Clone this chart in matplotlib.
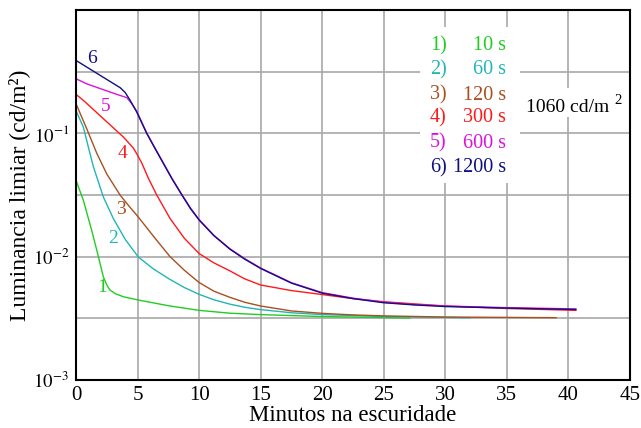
import matplotlib
matplotlib.use("Agg")
import matplotlib.pyplot as plt
from matplotlib.patches import Rectangle

plt.rcParams["font.family"] = ["Liberation Serif", "DejaVu Serif"]
plt.rcParams["mathtext.fontset"] = "stix"

# minutes in the dark / threshold luminance (cd/m2)
t1 = [0, 0.6, 1.27, 1.82, 2.22, 2.5, 2.76, 3.2, 3.85, 5.07, 7.64, 10, 12.5, 15, 20, 27.1]
y1 = [0.0417, 0.0286, 0.0164, 0.0100, 0.00687, 0.00589, 0.00536, 0.00501,
      0.00473, 0.00445, 0.00398, 0.00367, 0.00348, 0.00339, 0.00327, 0.00318]

t2 = [0, 0.6, 1.0, 1.41, 2.22, 3.03, 4.0, 5.07, 6.3, 7.64, 8.8, 10, 11.2, 12.5,
      13.7, 15, 17.5, 20, 25, 32]
y2 = [0.153, 0.112, 0.0776, 0.0537, 0.0305, 0.0204, 0.0138, 0.00991, 0.00794,
      0.00653, 0.00562, 0.00495, 0.00447, 0.00412, 0.00389, 0.00372, 0.00351,
      0.00339, 0.00327, 0.00320]

t3 = [0, 0.87, 1.68, 2.5, 3.58, 4.25, 5.07, 6.3, 7.64, 8.8, 10, 11.2, 12.5, 13.7,
      15, 17.5, 20, 22.5, 25, 30, 39]
y3 = [0.174, 0.109, 0.0692, 0.0468, 0.0316, 0.0261, 0.0209, 0.0146, 0.0100,
      0.00776, 0.00617, 0.00525, 0.00468, 0.00427, 0.00398, 0.00363, 0.00347,
      0.00337, 0.00331, 0.00324, 0.00320]

t4 = [0, 0.6, 2.22, 3.85, 4.66, 4.93, 5.34, 5.88, 6.56, 7.64, 8.8, 10, 11.2, 12.5,
      13.7, 15, 17.5, 20, 22.5, 25, 30, 35, 40.6]
y4 = [0.207, 0.185, 0.1315, 0.0933, 0.0759, 0.0684, 0.0575, 0.0432, 0.0316,
      0.0204, 0.0141, 0.0106, 0.00891, 0.00767, 0.00661, 0.00589, 0.00531,
      0.00493, 0.00457, 0.00431, 0.00398, 0.00380, 0.00367]

t5 = [0, 0.87, 2.22, 3.31, 4.12, 4.53, 4.93, 5.74, 6.4, 7.1, 7.8, 8.6, 9.3, 10,
      11.2, 12.5, 13.7, 15, 17.5, 20, 22.5, 25, 27.5, 30, 35, 40.6]
y5 = [0.277, 0.252, 0.226, 0.207, 0.195, 0.174, 0.151, 0.101, 0.0766, 0.0574,
      0.0431, 0.0319, 0.0248, 0.0200, 0.0149, 0.0116, 0.00964, 0.00809, 0.00615,
      0.00511, 0.00461, 0.00427, 0.00409, 0.00398, 0.00386, 0.00377]

t6 = [0, 1.8, 3.6, 4.0, 4.4, 4.93, 5.74, 6.4, 7.1, 7.8, 8.6, 9.3, 10, 11.2, 12.5,
      13.7, 15, 17.5, 20, 22.5, 25, 27.5, 30, 35, 40.6]
y6 = [0.390, 0.302, 0.234, 0.214, 0.185, 0.149, 0.100, 0.0759, 0.0569, 0.0427,
      0.0316, 0.0245, 0.0198, 0.0148, 0.0115, 0.00955, 0.00802, 0.00610, 0.00506,
      0.00457, 0.00423, 0.00406, 0.00394, 0.00383, 0.00373]

curve_ids = ["1", "2", "3", "4", "5", "6"]
exposures = ["10 s", "60 s", "120 s", "300 s", "600 s", "1200 s"]
colors = ["#22cc22", "#22b5b5", "#a85020", "#ff1a1a", "#dd11dd", "#101080"]

# where the little curve numbers sit (minutes, luminance)
label_t = [2.1, 3.0, 3.66, 3.74, 2.44, 1.3]
label_y = [0.00566, 0.0141, 0.0243, 0.0689, 0.166, 0.405]

fig = plt.figure(figsize=(6.41, 4.28), dpi=100)
ax = fig.add_axes([76 / 641, 1 - 380 / 428, 554 / 641, 370 / 428])

ts = [t1, t2, t3, t4, t5, t6]
ys = [y1, y2, y3, y4, y5, y6]
for t, y, c in zip(ts, ys, colors):
    ax.plot(t, y, color=c, lw=1.0, zorder=3)

for i in range(6):
    ax.text(label_t[i], label_y[i], curve_ids[i], color=colors[i], fontsize=14,
            ha="center", va="center", zorder=4)

ax.set_yscale("log")
ax.set_xlim(0, 45)
ax.set_ylim(1e-3, 1)
ax.set_xticks(range(0, 46, 5))
ax.set_yticks([1e-3, 1e-2, 1e-1])
ax.set_yticklabels([r"$10^{-3}$", r"$10^{-2}$", r"$10^{-1}$"])
ax.set_yticks([10 ** -2.5, 10 ** -1.5, 10 ** -0.5], minor=True)
ax.yaxis.set_minor_formatter(plt.NullFormatter())
ax.tick_params(axis="both", which="both", length=0, pad=5)
ax.tick_params(axis="x", labelsize=15, pad=4)
ax.tick_params(axis="y", labelsize=13.5)
ax.set_axisbelow(True)
ax.grid(True, which="both", color="#a8a8a8", lw=1.2)
for s in ax.spines.values():
    s.set_linewidth(1.5)
    s.set_zorder(5)

ax.set_xlabel("Minutos na escuridade", fontsize=16.5, labelpad=0)
ax.set_ylabel("Luminancia limiar (cd/m²)", fontsize=17, labelpad=2)

# legend block, white behind it so the grid is cut
ax.add_patch(Rectangle((420 / 641, 1 - 183 / 428), 100 / 641, 156 / 428,
                       transform=fig.transFigure, facecolor="white",
                       edgecolor="none", zorder=1))
row_y = [46, 70, 95, 118, 143, 168]
for i in range(6):
    yy = 1 - row_y[i] / 428
    ax.text(430 / 641, yy, curve_ids[i] + ")", color=colors[i], fontsize=14.5,
            ha="left", va="center", transform=fig.transFigure, zorder=4)
    ax.text(506 / 641, yy, exposures[i], color=colors[i], fontsize=14.5,
            ha="right", va="center", transform=fig.transFigure, zorder=4)

ax.add_patch(Rectangle((522 / 641, 1 - 117 / 428), 106 / 641, 29 / 428,
                       transform=fig.transFigure, facecolor="white",
                       edgecolor="none", zorder=1))
ax.text(526 / 641, 1 - 107 / 428, "1060 cd/m", fontsize=14, ha="left",
        va="center", transform=fig.transFigure, zorder=4)
ax.text(618 / 641, 1 - 101 / 428, "2", fontsize=10.5, ha="center",
        va="center", transform=fig.transFigure, zorder=4)

fig.savefig("out.png", dpi=100)
